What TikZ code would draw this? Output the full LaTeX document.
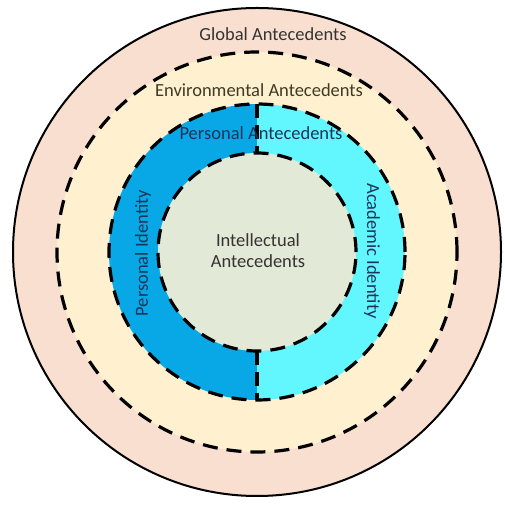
\documentclass[tikz,border=0pt]{standalone}
\usepackage{fontspec}
\setmainfont{Carlito}
\usetikzlibrary{calc}
\definecolor{globalfill}{HTML}{F8DFCF}
\definecolor{envfill}{HTML}{FFF0CF}
\definecolor{persfill}{HTML}{08A8E6}
\definecolor{acadfill}{HTML}{62F6FF}
\definecolor{intfill}{HTML}{E3E9D7}
\definecolor{labelgray}{HTML}{333333}
\definecolor{labelolive}{HTML}{3F3A26}
\definecolor{labelblue}{HTML}{1A3558}
\begin{document}
\begin{tikzpicture}[x=1pt,y=1pt,
  ringline/.style={line width=3.2pt, dash pattern=on 15pt off 9pt},
  divider/.style={line width=3.2pt, dash pattern=on 14pt off 7pt},
  outerline/.style={line width=2pt},
  lbl/.style={font=\fontsize{18.5}{21}\selectfont, inner sep=0pt, align=center}]
  \useasboundingbox (0,0) rectangle (505,508);
  \fill[white] (0,0) rectangle (505,508);
  \coordinate (c) at (257,256);
  % outer solid circle
  \fill[globalfill] (c) circle (244);
  \draw[outerline] (c) circle (244);
  % environmental ring
  \fill[envfill] (c) circle (200);
  \draw[ringline] (c) circle (200);
  % identity ring: two halves
  \fill[persfill] (c) ++(90:148) arc (90:270:148) -- cycle;
  \fill[acadfill] (c) ++(-90:148) arc (-90:90:148) -- cycle;
  \fill[intfill] (c) circle (99);
  \draw[ringline] (c) circle (148);
  \draw[ringline] (c) circle (99);
  % dividers between the halves
  \coordinate (ta) at ($(c)+(0,148)$);
  \coordinate (tb) at ($(c)+(0,99)$);
  \coordinate (ba) at ($(c)+(0,-99)$);
  \coordinate (bb) at ($(c)+(0,-148)$);
  \draw[divider] (ta) -- (tb);
  \draw[divider] (ba) -- (bb);
  % labels
  \node[lbl, text=labelgray] (glob) at (273,474) {Global Antecedents};
  \node[lbl, text=labelolive] (env) at (259,418) {Environmental Antecedents};
  \node[lbl, text=labelblue] (pers) at (261,375) {Personal Antecedents};
  \node[lbl, text=labelgray] (intel) at (258,257) {Intellectual\\Antecedents};
  \node[lbl, text=labelblue, rotate=90] (pid) at (143,255) {Personal Identity};
  \node[lbl, text=labelblue, rotate=-90] (aid) at (372,257) {Academic Identity};
\end{tikzpicture}
\end{document}
